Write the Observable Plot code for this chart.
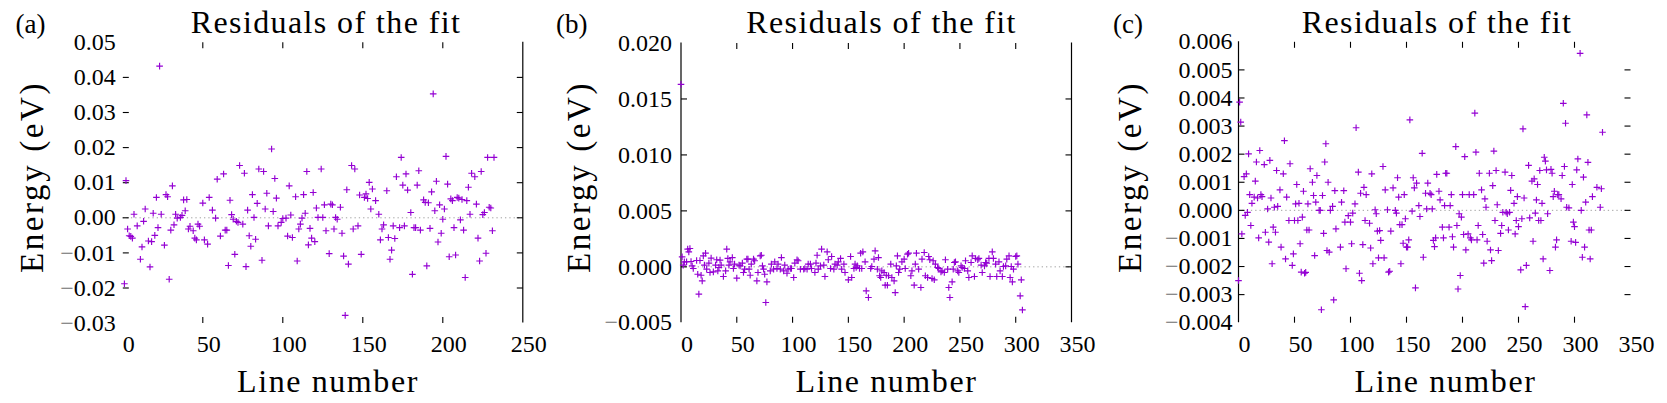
<!DOCTYPE html>
<html><head><meta charset="utf-8">
<script src="https://cdn.jsdelivr.net/npm/d3@7"></script>
<script src="https://cdn.jsdelivr.net/npm/@observablehq/plot@0.6"></script>
<style>
html,body{margin:0;padding:0;background:#fff;}
#chart{position:relative;width:1667px;height:403px;overflow:hidden;font-family:"Liberation Serif",serif;color:#000;background:#fff;}
.panel{position:absolute;top:0;}
.lbl{position:absolute;white-space:nowrap;line-height:1;font-family:"Liberation Serif",serif;}
</style></head><body><div id="chart"></div>
<script>
// ---------- Panel (a) ----------
const linesA = [1,2,3,4,5,6,7,9,11,12,13,14,16,17,18,19,20,21,22,23,24,26,27,28,29,30,31,32,33,34,36,37,38,39,40,41,42,44,45,46,47,48,50,51,53,54,56,58,59,61,63,64,65,66,67,68,69,70,71,72,73,75,76,77,78,79,80,81,82,83,84,85,87,88,89,90,91,93,94,95,96,97,99,100,102,103,104,105,106,108,109,110,111,112,113,114,115,116,117,118,119,120,121,122,124,125,126,127,129,130,131,132,133,134,136,137,138,139,140,141,143,144,145,147,148,149,151,152,153,154,155,156,158,160,161,162,163,165,166,167,168,169,170,171,173,174,175,176,177,178,180,181,182,183,184,185,186,188,189,190,191,192,193,194,195,196,197,198,199,200,201,202,203,204,205,206,207,208,209,210,211,212,213,214,215,216,217,218,220,221,222,223,224,225,226,227,228,229,230,231,232];
const energyA = [-0.0188,0.0106,-0.0032,-0.0051,-0.0053,-0.0058,0.0010,-0.0023,-0.0118,-0.0083,-0.0010,0.0025,-0.0066,-0.0140,-0.0068,0.0013,-0.0050,0.0058,-0.0028,0.0432,0.0010,-0.0078,0.0066,0.0060,-0.0175,-0.0035,0.0091,-0.0020,0.0010,-0.0001,0.0001,0.0007,0.0051,0.0020,0.0052,-0.0032,-0.0024,-0.0037,-0.0058,-0.0063,-0.0018,-0.0024,0.0042,-0.0063,-0.0075,0.0058,0.0022,-0.0001,0.0110,-0.0052,0.0125,-0.0035,-0.0035,-0.0136,0.0050,0.0009,-0.0004,-0.0104,-0.0010,-0.0013,0.0149,-0.0018,0.0127,-0.0139,0.0022,-0.0051,-0.0081,0.0066,0.0001,-0.0061,0.0041,0.0139,-0.0121,0.0132,0.0025,0.0070,-0.0023,0.0196,0.0018,0.0112,0.0056,-0.0023,-0.0013,-0.0002,-0.0001,-0.0052,0.0091,0.0008,-0.0056,0.0060,-0.0123,-0.0032,-0.0018,-0.0001,0.0066,0.0013,0.0132,-0.0077,-0.0030,-0.0058,0.0072,-0.0068,0.0028,0.0001,0.0139,0.0001,0.0037,-0.0037,-0.0102,0.0039,0.0037,-0.0032,0.0001,-0.0004,0.0030,-0.0044,-0.0109,-0.0278,0.0080,-0.0132,0.0149,-0.0032,0.0139,-0.0023,0.0065,-0.0104,0.0058,0.0068,0.0055,0.0101,0.0025,0.0082,0.0049,0.0010,-0.0063,-0.0032,-0.0020,0.0077,-0.0056,-0.0118,-0.0092,-0.0023,-0.0059,0.0117,-0.0028,0.0172,0.0093,-0.0023,0.0125,0.0079,0.0015,-0.0161,-0.0028,-0.0028,0.0093,0.0134,-0.0035,0.0051,0.0044,-0.0137,0.0043,-0.0030,0.0074,0.0353,0.0020,0.0104,-0.0069,0.0037,-0.0044,-0.0004,0.0025,0.0175,0.0096,-0.0111,0.0054,0.0049,-0.0028,-0.0106,0.0058,0.0056,-0.0006,0.0052,-0.0035,-0.0170,0.0049,0.0087,0.0010,0.0127,0.0117,0.0039,-0.0058,-0.0123,0.0132,0.0009,0.0015,-0.0101,0.0172,0.0030,0.0028,-0.0037,0.0172];
const xTicksA = [0,50,100,150,200,250];
const yTicksA = [-0.03,-0.02,-0.01,0,0.01,0.02,0.03,0.04,0.05];

// ---------- Panel (b) ----------
const linesB = [0,1,2,3,5,6,7,8,9,10,11,14,15,16,17,18,19,20,21,22,23,25,26,27,29,31,32,33,34,35,36,38,40,41,42,43,44,46,47,48,50,52,53,55,56,57,59,60,61,62,63,65,66,68,69,71,72,73,74,75,76,77,80,81,83,84,86,87,89,90,92,93,95,96,98,99,101,102,104,105,107,110,111,113,114,116,117,120,121,122,123,125,126,128,129,131,132,134,135,137,138,140,141,143,144,146,147,150,152,153,155,156,157,158,160,161,162,163,165,166,168,170,171,173,174,176,177,178,179,180,182,183,184,185,186,188,189,191,192,193,194,195,196,198,200,201,203,204,206,207,209,210,211,213,215,216,218,219,221,222,223,225,226,227,228,230,231,233,234,236,237,239,240,241,243,244,245,246,248,249,251,252,254,255,257,258,260,261,263,264,266,267,269,270,272,273,274,276,277,279,280,282,283,285,286,288,289,291,292,294,295,296,297,298,300,301,302,304,305,306];
const energyB = [0.0163,0.00089,0.00015,0.00045,0.00045,0.00158,0.00134,0.00164,0.00048,0.00009,-0.00015,0.00057,-0.00066,-0.00244,0.00057,-0.00075,-0.00125,0.00098,0.00015,0.00122,-0.00021,0.00033,-0.00051,0.00078,-0.00045,0.00015,0.00063,-0.00036,-0.00006,0.0006,0.00015,-0.00086,-0.00036,0.00158,0.00075,0.00015,0.00045,0.00083,-0.00015,0.00024,-0.00101,0.00015,0.00009,0.00033,-0.00051,-0.00021,0.00069,0.00069,-0.00021,-0.00075,0.00024,0.00069,0.00054,-0.00125,-0.00051,0.00098,0.00104,0.00009,-0.00021,-0.00066,-0.00319,-0.00134,-0.00036,0.00024,-0.00021,0.00045,-0.00015,0.00024,-0.00021,0.00083,-0.00036,0.00015,-0.00057,-0.00021,-0.00015,-0.00015,-0.00095,0.00033,0.00063,0.00054,-0.00021,-0.00021,-0.00015,-0.00021,0.00024,0.00024,-0.00015,-0.00051,0.00033,0.00104,-0.00021,0.00009,0.00158,0.00015,-0.00086,0.00134,0.00063,-0.00015,0.00092,-0.00021,0.00024,0.00015,0.00045,0.00075,-0.00021,0.00024,-0.00051,-0.00116,0.00092,-0.00095,-0.00015,0.00024,-0.00006,0.00009,-0.00015,0.00122,-0.00015,0.00134,0.00045,-0.00215,-0.00274,-0.00015,0.00003,0.00069,0.00143,-0.00021,0.00083,-0.0008,-0.00095,-0.00036,-0.00051,-0.00164,-0.00075,-0.00164,-0.0008,0.00024,-0.00095,-0.00125,-0.0023,0.00009,0.00098,-0.00051,-0.00021,0.00045,0.00069,-0.00015,0.00113,0.00122,-0.0008,-0.00036,-0.00164,0.00024,0.00122,-0.00021,-0.00185,0.00069,0.00128,-0.0008,-0.00095,0.00092,0.00063,-0.00104,0.00054,-0.00116,0.00024,-0.00006,-0.00015,-0.00045,-0.00036,-0.00051,0.00063,-0.00021,-0.00185,-0.00274,-0.00134,-0.00021,0.00039,0.00045,-0.00036,-0.00051,0.00009,-0.00006,-0.00015,0.00054,-0.00036,-0.00095,0.00039,0.00098,-0.00086,0.00075,0.00063,0.00075,0.00015,-0.00051,0.00009,0.00039,0.00033,0.00075,-0.00086,0.00134,0.00075,0.00024,-0.00086,0.00045,-0.00036,-0.00086,0.00003,0.00009,0.00069,0.00098,-0.00095,0.00003,-0.00134,-0.00021,0.00092,0.00098,0.00024,-0.00259,-0.00116,-0.00385];
const xTicksB = [0,50,100,150,200,250,300,350];
const yTicksB = [-0.005,0,0.005,0.010,0.015,0.020];

// ---------- Panel (c) ----------
const linesC = [0,1,2,3,5,6,7,8,9,10,11,12,14,15,16,17,18,19,20,21,23,24,26,27,28,29,30,31,32,33,34,35,37,38,40,41,42,43,45,46,48,49,50,51,52,53,54,55,56,57,58,59,60,61,62,63,64,66,67,68,69,70,72,73,74,75,76,77,78,79,80,81,82,84,85,86,87,91,92,94,95,96,98,100,101,102,104,105,107,108,109,110,111,112,113,114,117,118,119,120,122,123,124,125,126,127,129,130,131,133,134,135,136,138,140,141,142,143,144,145,146,147,148,149,150,151,152,153,155,156,157,158,159,161,162,164,165,167,168,169,171,172,173,174,175,176,177,179,180,182,183,184,185,186,188,189,190,191,192,194,195,196,197,198,199,200,201,202,203,205,206,207,208,210,211,212,213,214,215,217,218,219,220,221,222,224,225,226,227,228,229,230,231,232,234,235,236,238,239,240,241,242,243,244,246,247,248,249,250,252,253,254,255,256,257,259,260,262,263,264,265,266,267,268,269,270,271,272,273,274,275,276,278,279,280,281,282,283,284,285,286,288,289,290,291,292,293,295,297,298,299,300,301,302,303,305,306,307,308,309,310,311,312,313,314,315,316,320,323,324,325];
const energyC = [-0.0025,0.00385,0.00314,-0.00084,0.0012,-0.00018,0.0013,-0.00007,0.00201,0.00056,-0.00054,0.00025,0.00047,0.00104,0.00172,0.00044,-0.00098,0.00213,0.00056,0.00049,0.00163,-0.00078,0.00005,-0.00113,0.00178,0.00044,-0.0019,-0.0006,0.00011,-0.00078,0.00142,0.00014,0.00073,-0.00131,0.0013,0.00248,-0.00173,0.00047,-0.00036,0.00166,-0.00196,-0.00155,-0.00036,0.00023,0.00092,-0.00036,0.00025,-0.00119,-0.0022,-0.00024,0.00068,-0.00224,-0.00221,-0.0007,0.00023,-0.0007,0.00148,0.001,0.00053,-0.00161,0.00029,0.00124,0,0,-0.00354,0.00053,-0.00082,0.00172,0.00237,-0.00143,0.001,-0.00149,0,0.00014,-0.00319,0.0007,-0.00066,-0.00131,0.00029,0.0007,-0.00042,-0.00208,-0.00019,-0.00042,-0.00119,-0.0001,0.00023,0.00294,0.00136,-0.00224,0.00061,-0.0025,-0.00122,0.00082,-0.00036,0.00056,-0.00046,-0.00134,0.0013,-0.0019,0.00002,-0.00012,-0.00074,-0.00169,-0.00072,-0.00107,0.00156,-0.00169,0.00073,0.00002,-0.0022,-0.00217,-0.00074,0.0008,0,-0.0001,0.00116,0.00047,-0.00051,-0.0019,-0.00051,-0.00117,0.00056,-0.0003,-0.00131,-0.00131,-0.00105,0.00322,-0.00003,0.00116,0.0008,-0.00276,0.00097,0.00017,-0.00022,0.00203,-0.00167,0.00061,0.00005,0.00097,0.00061,0.00056,0.00005,-0.00107,-0.00129,-0.00098,0.00128,0.00068,0.00037,-0.0006,-0.00098,0.00017,0.00132,0.00132,-0.0006,0.00017,0.00056,-0.00094,-0.00131,0.00227,-0.00054,-0.0028,-0.00012,-0.00232,-0.00024,0.00056,-0.00086,0.00191,-0.00141,-0.00084,0.00056,-0.00098,-0.00105,0.00056,0.00346,0.00207,-0.00105,-0.00054,0.00132,0.00073,-0.00086,-0.00188,0.00041,0.00011,-0.0011,0.00132,-0.00141,-0.00179,0.00088,0.00211,-0.00036,0.00142,0.0002,-0.00143,-0.00082,-0.00054,-0.00007,0.00136,-0.00007,-0.00012,-0.0007,-0.00007,0.00071,0.00124,0.00025,-0.00084,-0.00036,0.00049,-0.00058,-0.00212,-0.0003,0.0029,0.00044,-0.00343,-0.00196,0.0016,-0.00027,0.00104,-0.0011,0.00112,-0.0001,0.00037,0.00092,-0.00036,0.00142,-0.00036,0.00025,-0.00173,0.00189,0.00175,0.00144,-0.00012,-0.00214,0.00146,0.00132,0.00049,0.00068,-0.00131,-0.00105,0.00056,0.00056,0.00041,0.00124,0.00381,0.00156,0.0031,0.00011,0.00009,-0.0011,0.00092,-0.00042,-0.00058,-0.00114,0.00144,0.00183,0.00559,0,-0.00167,0.00118,-0.00131,0.00029,0.0034,0.00171,-0.0007,-0.00173,-0.0007,0.00049,0.00082,0.00011,0.00077,0.00278];
const xTicksC = [0,50,100,150,200,250,300,350];
const yTicksC = [-0.004,-0.003,-0.002,-0.001,0,0.001,0.002,0.003,0.004,0.005,0.006];

const panelLetters = ["(a)","(b)","(c)"];
const titleText = "Residuals of the fit";
const xLabelText = "Line number";
const yLabelText = "Energy (eV)";

// ---------- drawing ----------
const PURPLE = "#9400d3";
const FONT = "'Liberation Serif', serif";
const plusSymbol = {draw(ctx){ const r = 3.3; ctx.moveTo(-r,0); ctx.lineTo(r,0); ctx.moveTo(0,-r); ctx.lineTo(0,r); }};
const segSymbol = (dx,dy) => ({draw(ctx){ ctx.moveTo(0,0); ctx.lineTo(dx,dy); }});
const TL = 6;

function panel(cfg) {
  const inY = cfg.yTicks.slice(1,-1), inX = cfg.xTicks.slice(1,-1);
  const fmt = d3.format(cfg.fmt);
  const marks = [
    Plot.ruleY([0], {stroke:"#a0a0a0", strokeWidth:1, strokeDasharray:"1.3,3"}),
    ...cfg.frame.map(v => Plot.ruleX([v], {stroke:"#000", strokeWidth:1.2})),
    Plot.dot(inY, {y:d=>d, frameAnchor:"left", symbol:segSymbol(TL,0), stroke:"#000", fill:"none", strokeWidth:1.1}),
    Plot.dot(inY, {y:d=>d, frameAnchor:"right", symbol:segSymbol(-TL,0), stroke:"#000", fill:"none", strokeWidth:1.1}),
    Plot.dot(inX, {x:d=>d, frameAnchor:"top", symbol:segSymbol(0,TL), stroke:"#000", fill:"none", strokeWidth:1.1}),
    Plot.dot(inX, {x:d=>d, frameAnchor:"bottom", symbol:segSymbol(0,-TL), stroke:"#000", fill:"none", strokeWidth:1.1}),
    Plot.dot(cfg.lines, {x:d=>d, y:(d,i)=>cfg.energy[i], symbol:plusSymbol, stroke:PURPLE, fill:"none", strokeWidth:1.15}),
    Plot.axisY(cfg.yTicks, {anchor:"left", tickSize:0, tickPadding:cfg.yPad, tickFormat:fmt, fontSize:24, fontFamily:FONT, label:null}),
    Plot.axisX(cfg.xTicks, {anchor:"bottom", tickSize:0, tickPadding:12, dx:6, tickFormat:d=>String(d), fontSize:24, fontFamily:FONT, label:null})
  ];
  const svg = Plot.plot({
    width: cfg.width, height: 403,
    marginLeft: cfg.ml, marginRight: cfg.mr, marginTop: cfg.mt, marginBottom: cfg.mb,
    x: {domain:[0, cfg.xTicks[cfg.xTicks.length-1]]},
    y: {domain:[cfg.yTicks[0], cfg.yTicks[cfg.yTicks.length-1]]},
    style: {fontFamily:FONT, background:"transparent", overflow:"visible", color:"#000"},
    marks
  });
  // render the minus sign of negative tick labels in grey, as in the reference
  svg.querySelectorAll("g[aria-label='y-axis tick label'] text").forEach(t => {
    const s = t.textContent;
    if (s.startsWith("\u2212")) {
      t.textContent = "";
      const m = document.createElementNS("http://www.w3.org/2000/svg", "tspan");
      m.setAttribute("fill", "#707070");
      m.textContent = "\u2212";
      t.appendChild(m);
      t.appendChild(document.createTextNode(s.slice(1)));
    }
  });
  svg.classList.add("panel");
  svg.style.left = cfg.left + "px";
  document.getElementById("chart").appendChild(svg);
}

panel({lines:linesA, energy:energyA, xTicks:xTicksA, yTicks:yTicksA, fmt:".2f", frame:[250],
  left:0, width:560, ml:122.3, mr:37.7, mt:41.8, mb:80.4, yPad:7});
panel({lines:linesB, energy:energyB, xTicks:xTicksB, yTicks:yTicksB, fmt:".3f", frame:[0,350],
  left:560, width:540, ml:120.5, mr:29, mt:42.5, mb:80.7, yPad:9});
panel({lines:linesC, energy:energyC, xTicks:xTicksC, yTicks:yTicksC, fmt:".3f", frame:[0],
  left:1100, width:567, ml:138, mr:37, mt:41.3, mb:80.8, yPad:6});

// ---------- texts ----------
const chart = document.getElementById("chart");
function addText(txt, opts) {
  const el = document.createElement("div");
  el.className = "lbl";
  el.textContent = txt;
  el.style.fontSize = opts.fs + "px";
  if (opts.ls) el.style.letterSpacing = opts.ls + "px";
  if (opts.rotate) {
    el.style.left = opts.cx + "px";
    el.style.top = opts.cy + "px";
    el.style.transform = "translate(-50%,-50%) rotate(-90deg)";
  } else {
    el.style.top = (opts.base - 0.8375*opts.fs) + "px";
    if (opts.cx !== undefined) { el.style.left = opts.cx + "px"; el.style.transform = "translateX(-50%)"; }
    else el.style.left = opts.x + "px";
  }
  chart.appendChild(el);
}
const titleCx = [326, 881.5, 1437];
const letterX = [15.5, 556, 1113];
const xLabCx = [328, 886.5, 1445.5];
const yLabCx = [31.5, 578.5, 1129.5];
for (let k = 0; k < 3; k++) {
  addText(titleText, {fs:32, ls:1.4, cx:titleCx[k], base:33});
  addText(panelLetters[k], {fs:27, x:letterX[k], base:34});
  addText(xLabelText, {fs:32, ls:1.6, cx:xLabCx[k], base:392});
  addText(yLabelText, {fs:33, ls:2.6, rotate:true, cx:yLabCx[k], cy:177});
}
</script></body></html>
